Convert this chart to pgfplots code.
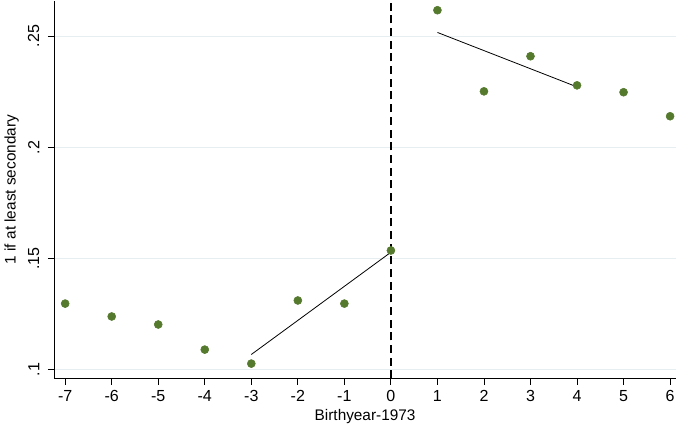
\documentclass[border=0pt]{standalone}
\usepackage{pgfplots}
\pgfplotsset{compat=1.18}
\usepackage{fontspec}
\setmainfont{Liberation Sans}
\definecolor{dotgreen}{HTML}{557A2E}
\definecolor{gridc}{HTML}{E6EEF1}

\begin{document}
\begin{tikzpicture}
\begin{axis}[
    scale only axis,
    width=466pt,
    height=283pt,
    xmin=-7.24, xmax=6.13,
    ymin=0.096, ymax=0.266,
    axis x line*=bottom,
    axis y line*=left,
    axis line style={-, line width=0.6pt},
    xtick={-7,...,6},
    ytick={0.1,0.15,0.2,0.25},
    yticklabels={.1,.15,.2,.25},
    yticklabel style={rotate=90, anchor=south, yshift=3pt},
    xticklabel style={yshift=-1pt},
    ymajorgrids,
    grid style={gridc, line width=0.6pt},
    tick align=outside,
    major tick length=4.5pt,
    tick style={black, line width=0.6pt},
    tick label style={font=\fontsize{12}{14}\selectfont},
    label style={font=\fontsize{11.5}{13}\selectfont},
    /pgf/number format/assume math mode=true,
    xlabel={Birthyear-1973},
    ylabel={1 if at least secondary},
    xlabel style={yshift=1pt},
    ylabel style={yshift=0pt},
    clip=false,
]
\addplot[black, line width=1pt, dash pattern=on 6pt off 3.5pt, forget plot] coordinates {(0,0.096) (0,0.266)};
\addplot[black, line width=0.6pt] coordinates {(-3,0.1068) (0,0.1528)};
\addplot[black, line width=0.6pt] coordinates {(1,0.2517) (4,0.2272)};
\addplot[only marks, mark=*, mark size=3pt, dotgreen, mark options={draw=dotgreen, fill=dotgreen}] coordinates {
(-7,0.1297)
(-6,0.1239)
(-5,0.1203)
(-4,0.1090)
(-3,0.1027)
(-2,0.1311)
(-1,0.1297)
(0,0.1536)
(1,0.2617)
(2,0.2252)
(3,0.2410)
(4,0.2279)
(5,0.2248)
(6,0.2140)
};
\end{axis}
\end{tikzpicture}
\end{document}
